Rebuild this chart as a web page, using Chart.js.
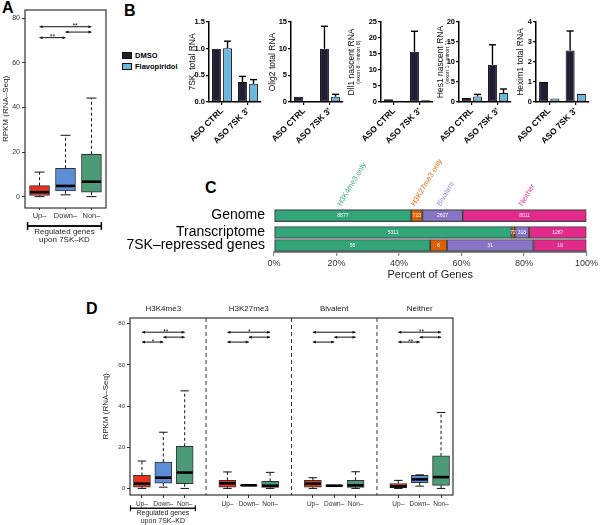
<!DOCTYPE html>
<html><head><meta charset="utf-8">
<script src="https://cdn.jsdelivr.net/npm/chart.js@4.4.1/dist/chart.umd.min.js"></script>
<style>
html,body{margin:0;padding:0;background:#fff;}
body{width:600px;height:525px;position:relative;overflow:hidden;font-family:"Liberation Sans",Arial,Helvetica,sans-serif;}
canvas{position:absolute;}
.panel{position:absolute;font-weight:bold;font-size:16px;line-height:1;color:#000;}
.leg{position:absolute;font-weight:bold;font-size:7.5px;line-height:1;color:#000;}
.sw{position:absolute;width:8px;height:5px;border:1px solid #111;}
</style></head><body>
<div class="panel" style="left:2px;top:0px">A</div>
<div class="panel" style="left:124px;top:3px">B</div>
<div class="panel" style="left:205px;top:180px">C</div>
<div class="panel" style="left:86px;top:301px">D</div>
<div class="sw" style="left:122px;top:52px;background:#231c35"></div>
<div class="leg" style="left:135px;top:52px">DMSO</div>
<div class="sw" style="left:122px;top:63px;background:#6cb7dd"></div>
<div class="leg" style="left:135px;top:63px">Flavopiridol</div>
<script>
// ---------------- DATA ----------------
// Panel A (box stats: [min, q1, median, q3, max])
const groupLabels = ['Up–', 'Down–', 'Non–'];
const aUp   = [0, 0.5, 2.0, 4.9, 11.0];
const aDown = [0.8, 2.6, 4.8, 12.7, 27.5];
const aNon  = [0, 2.0, 6.7, 19.0, 44.2];
const rpkmTicks = [0, 20, 40, 60, 80];

// Panel B
const bCategories = ['ASO CTRL', "ASO 7SK 3'"];
const bSeries = ['DMSO', 'Flavopiridol'];
const sk7Dmso = [1.0, 0.375],  sk7DmsoErr = [0, 0.105], sk7Flavo = [1.01, 0.34], sk7FlavoErr = [0.13, 0.08];
const olig2Dmso = [1.0, 10.0], olig2DmsoErr = [0, 4.2], olig2Flavo = [0.12, 1.0], olig2FlavoErr = [0, 0.44];
const dll1Dmso = [0.85, 15.7], dll1DmsoErr = [0, 6.4],  dll1Flavo = [0.4, 0.55], dll1FlavoErr = [0, 0];
const hes1Dmso = [1.0, 9.3],   hes1DmsoErr = [0, 5.0],  hes1Flavo = [1.4, 2.25], hes1FlavoErr = [0.5, 1.0];
const hexim1Dmso = [1.0, 2.58], hexim1DmsoErr = [0, 0.97], hexim1Flavo = [0.18, 0.4], hexim1FlavoErr = [0, 0];

// Panel C (gene counts)
const cRows = ['Genome', 'Transcriptome', '7SK–repressed genes'];
const cClasses = ['H3K4me3 only', 'H3K27me3 only', 'Bivalent', 'Neither'];
const cH3K4me3  = [8877, 5311, 56];
const cH3K27me3 = [723, 72, 6];
const cBivalent = [2607, 318, 31];
const cNeither  = [8011, 1287, 19];
const cTicks = [0, 20, 40, 60, 80, 100];

// Panel D (box stats per facet: Up, Down, Non)
const dFacets = ['H3K4me3', 'H3K27me3', 'Bivalent', 'Neither'];
const dH3K4me3  = [[0, 0.6, 2.3, 6.3, 13.3], [0.6, 2.6, 5.2, 12.8, 27.3], [0, 2.3, 7.7, 20.5, 47.4]];
const dH3K27me3 = [[0, 0.6, 2.5, 3.9, 8.0], [1.2, 1.2, 1.5, 1.8, 1.8], [0, 0.5, 1.3, 3.4, 7.8]];
const dBivalent = [[0, 0.6, 2.3, 3.9, 5.2], [1.0, 1.0, 1.3, 1.7, 1.7], [0, 0.5, 1.5, 3.9, 8.1]];
const dNeither  = [[0, 0.3, 1.0, 2.4, 3.9], [1.1, 2.8, 4.4, 6.3, 6.6], [0, 1.5, 5.5, 15.8, 36.9]];

// ---------------- STYLE ----------------
const FONT = '"Liberation Sans", Arial, Helvetica, sans-serif';
Chart.defaults.font.family = FONT;
Chart.defaults.animation = false;
Chart.defaults.responsive = false;
Chart.defaults.devicePixelRatio = 1;
Chart.defaults.plugins.legend.display = false;
Chart.defaults.plugins.tooltip.enabled = false;
const boxColors = ['#e3331f', '#5b8ed6', '#4c9a78'];
const barColors = ['#231c35', '#6cb7dd'];
const classColors = ['#33a57b', '#d95f02', '#8674c4', '#e32a8a'];
const classLabelColors = ['#3ab288', '#e5690f', '#9c8fd8', '#e8398f'];

function addCanvas(left, top, w, h) {
  const c = document.createElement('canvas');
  c.width = w; c.height = h;
  c.style.left = left + 'px'; c.style.top = top + 'px';
  c.style.width = w + 'px'; c.style.height = h + 'px';
  document.body.appendChild(c);
  return c;
}
function seg(ctx, x1, y1, x2, y2) { ctx.beginPath(); ctx.moveTo(x1, y1); ctx.lineTo(x2, y2); ctx.stroke(); }
function arrowLine(ctx, x1, x2, y) {
  seg(ctx, x1, y, x2, y);
  const a = 3, b = 1.5;
  ctx.beginPath(); ctx.moveTo(x1, y); ctx.lineTo(x1 + a, y - b); ctx.lineTo(x1 + a, y + b); ctx.closePath(); ctx.fill();
  ctx.beginPath(); ctx.moveTo(x2, y); ctx.lineTo(x2 - a, y - b); ctx.lineTo(x2 - a, y + b); ctx.closePath(); ctx.fill();
}

// ---------------- BOX PLOTS ----------------
function boxPlugin(c) {
  return {
    id: 'boxplot',
    afterDatasetsDraw(chart) {
      const ctx = chart.ctx, xs = chart.scales.x, ys = chart.scales.y, ca = chart.chartArea;
      const meta = chart.getDatasetMeta(0);
      const py = v => ys.getPixelForValue(v), px = v => xs.getPixelForValue(v);
      ctx.save();
      (c.separators || []).forEach(p => {
        ctx.strokeStyle = '#333'; ctx.lineWidth = 1; ctx.setLineDash([4, 3]);
        seg(ctx, px(p), ca.top, px(p), ca.bottom);
      });
      ctx.setLineDash([]);
      c.stats.forEach((s, i) => {
        const el = meta.data[i];
        const x = el.x, hw = el.width / 2;
        const [mn, q1, md, q3, mx] = s;
        ctx.strokeStyle = '#111'; ctx.lineWidth = 1;
        if (mx > q3) {
          ctx.setLineDash([3, 2.5]); seg(ctx, x, py(q3), x, py(mx));
          ctx.setLineDash([]); seg(ctx, x - hw / 2, py(mx), x + hw / 2, py(mx));
        }
        if (mn < q1) {
          ctx.setLineDash([3, 2.5]); seg(ctx, x, py(q1), x, py(mn));
          ctx.setLineDash([]); seg(ctx, x - hw / 2, py(mn), x + hw / 2, py(mn));
        }
        ctx.strokeStyle = '#000'; ctx.lineWidth = c.medW;
        seg(ctx, x - hw + 0.5, py(md), x + hw - 0.5, py(md));
      });
      ctx.strokeStyle = '#333'; ctx.lineWidth = 1.2;
      ctx.strokeRect(ca.left, ca.top, ca.width, ca.height);
      ctx.strokeStyle = '#111'; ctx.fillStyle = '#111'; ctx.lineWidth = 1;
      c.sigLines.forEach(([a, b, v]) => arrowLine(ctx, px(a), px(b), py(v)));
      ctx.font = c.sigFont + 'px ' + FONT; ctx.textAlign = 'center'; ctx.textBaseline = 'alphabetic';
      c.sigText.forEach(([a, v, t]) => ctx.fillText(t, px(a), py(v) + c.sigFont * 0.6));
      ctx.fillStyle = '#222'; ctx.font = '8px ' + FONT; ctx.textBaseline = 'middle';
      (c.facetTitles || []).forEach(([p, t]) => ctx.fillText(t, px(p), c.facetY));
      const br = c.bracket;
      const bx1 = px(br.from), bx2 = px(br.to), by = ca.bottom + br.dy;
      ctx.strokeStyle = '#111'; ctx.lineWidth = br.lw;
      seg(ctx, bx1, by, bx2, by);
      ctx.lineWidth = br.lw * 0.8;
      seg(ctx, bx1 + 0.5, by - br.endH, bx1 + 0.5, by + br.endH);
      seg(ctx, bx2 - 0.5, by - br.endH, bx2 - 0.5, by + br.endH);
      ctx.fillStyle = '#222'; ctx.font = br.font + 'px ' + FONT; ctx.textAlign = 'center'; ctx.textBaseline = 'middle';
      const bc = (bx1 + bx2) / 2;
      ctx.fillText('Regulated genes', bc, ca.bottom + br.t1);
      ctx.fillText('upon 7SK–KD', bc, ca.bottom + br.t2);
      ctx.restore();
    }
  };
}
function boxChart(canvas, c) {
  const data = c.positions.map((p, i) => ({ x: p, y: [c.stats[i][1], c.stats[i][3]] }));
  return new Chart(canvas, {
    type: 'bar',
    data: { datasets: [{ data, backgroundColor: c.colors, borderColor: '#333', borderWidth: 1,
      borderSkipped: false, barThickness: c.boxW }] },
    options: {
      layout: { padding: c.pad },
      scales: {
        x: { type: 'linear', min: c.xMin, max: c.xMax, offset: false,
          afterBuildTicks: s => { s.ticks = c.positions.map(v => ({ value: v })); },
          afterFit: s => { s.height = c.xH; },
          ticks: { autoSkip: false, maxRotation: 0, minRotation: 0, callback: (v, i) => c.labels[i],
            font: { size: c.xFont }, color: '#333', padding: c.xPad },
          grid: { offset: false, drawOnChartArea: false, tickLength: c.xTick, color: '#333' },
          border: { display: false } },
        y: { type: 'linear', min: c.yMin, max: c.yMax,
          afterBuildTicks: s => { s.ticks = rpkmTicks.map(v => ({ value: v })); },
          afterFit: s => { s.width = c.yW; },
          ticks: { font: { size: c.yFont }, color: '#333', padding: 2 },
          grid: { drawOnChartArea: false, tickLength: 3, color: '#333' },
          border: { display: false },
          title: { display: true, text: 'RPKM (RNA–Seq)', font: { size: c.titleFont }, color: '#222',
            padding: { top: 1, bottom: 0 } } }
      }
    },
    plugins: [boxPlugin(c)]
  });
}

// Panel A
boxChart(addCanvas(0, 0, 120, 260), {
  positions: [1, 2, 3], labels: groupLabels, stats: [aUp, aDown, aNon], colors: boxColors,
  xMin: 0.44, xMax: 3.56, yMin: -5.1, yMax: 83.7, boxW: 20, medW: 2.6,
  pad: { left: 0, right: 14, top: 10, bottom: 0 }, yW: 25, xH: 52,
  xFont: 7.5, xTick: 2, xPad: 1, yFont: 7, titleFont: 8,
  sigLines: [[1, 3, 76.2], [2, 3, 73.8], [1, 2, 71.3]],
  sigText: [[2.37, 77.3, '**'], [1.5, 72.5, '**']], sigFont: 7,
  bracket: { from: 0.52, to: 3.4, dy: 18, t1: 24, t2: 32, font: 8, lw: 2, endH: 4 }
});

// Panel D
const dPositions = [0, 1, 2, 4, 5, 6, 8, 9, 10, 12, 13, 14];
const dSig = [];
[0, 4, 8, 12].forEach(b => { dSig.push([b, b + 2, 75.9], [b + 1, b + 2, 73.5], [b, b + 1, 71.1]); });
boxChart(addCanvas(90, 300, 370, 225), {
  positions: dPositions,
  labels: dPositions.map((p, i) => groupLabels[i % 3]),
  stats: [...dH3K4me3, ...dH3K27me3, ...dBivalent, ...dNeither],
  colors: dPositions.map((p, i) => boxColors[i % 3]),
  xMin: -0.56, xMax: 14.56, yMin: -3.2, yMax: 82.8, boxW: 17, medW: 2.6,
  pad: { left: 10, right: 7, top: 18, bottom: 0 }, yW: 30, xH: 30,
  xFont: 6.5, xTick: 3, xPad: 2, yFont: 6, titleFont: 8,
  separators: [3, 7, 11],
  facetTitles: dFacets.map((t, k) => [1 + 4 * k, t]), facetY: 9,
  sigLines: dSig,
  sigText: [[1.11, 77.1, '**'], [0.52, 72.2, '*'], [5.02, 77.1, '*'], [13.08, 77.1, '**'], [12.58, 72.2, '**']],
  sigFont: 6.5,
  bracket: { from: -0.56, to: 2.52, dy: 13.3, t1: 18.5, t2: 25.7, font: 7, lw: 1.5, endH: 3 }
});

// ---------------- PANEL B ----------------
const errPlugin = {
  id: 'errbars',
  afterDatasetsDraw(chart) {
    const ctx = chart.ctx, ys = chart.scales.y;
    ctx.save(); ctx.strokeStyle = '#000'; ctx.lineWidth = 1.4;
    chart.data.datasets.forEach((ds, di) => {
      const meta = chart.getDatasetMeta(di);
      ds.err.forEach((e, i) => {
        if (!e) return;
        const el = meta.data[i];
        const y0 = ys.getPixelForValue(ds.data[i]), y1 = ys.getPixelForValue(ds.data[i] + e);
        seg(ctx, el.x, y0, el.x, y1);
        seg(ctx, el.x - el.width * 0.4, y1, el.x + el.width * 0.4, y1);
      });
    });
    ctx.restore();
  }
};
function titlePlugin(p, left) {
  return {
    id: 'ytitle',
    afterDraw(chart) {
      const ctx = chart.ctx, ca = chart.chartArea, cy = (ca.top + ca.bottom) / 2;
      ctx.save(); ctx.fillStyle = '#111'; ctx.textAlign = 'center'; ctx.textBaseline = 'middle';
      ctx.translate(p.titleX - left, cy); ctx.rotate(-Math.PI / 2);
      ctx.font = '8.5px ' + FONT; ctx.fillText(p.title, 0, 0);
      ctx.restore();
      if (p.sub) {
        ctx.save(); ctx.fillStyle = '#111'; ctx.textAlign = 'center'; ctx.textBaseline = 'middle';
        ctx.translate(p.subX - left, cy); ctx.rotate(-Math.PI / 2);
        ctx.font = '5.5px ' + FONT; ctx.fillText(p.sub, 0, 0);
        ctx.restore();
      }
    }
  };
}
function barPanel(p) {
  const left = p.areaL - 40, w = p.areaR + 8 - left;
  const cv = addCanvas(left, 0, w, 160);
  new Chart(cv, {
    type: 'bar',
    data: { labels: bCategories, datasets: [
      { label: bSeries[0], data: p.dmso, err: p.dmsoErr, backgroundColor: barColors[0], borderColor: '#000', borderWidth: 1,
        borderSkipped: false, categoryPercentage: 0.85, barPercentage: 0.8 },
      { label: bSeries[1], data: p.flavo, err: p.flavoErr, backgroundColor: barColors[1], borderColor: '#111', borderWidth: 1,
        borderSkipped: false, categoryPercentage: 0.85, barPercentage: 0.8 }
    ] },
    options: {
      layout: { padding: { left: 0, right: 8, top: 22, bottom: 0 } },
      scales: {
        x: { afterFit: s => { s.height = 58; },
          ticks: { minRotation: 45, maxRotation: 45, autoSkip: false, font: { size: 8.5, weight: 'bold' }, color: '#000', padding: 1 },
          grid: { offset: false, drawOnChartArea: false, tickLength: 3, color: '#000', lineWidth: 1.2 },
          border: { color: '#000', width: 1.5 } },
        y: { min: 0, max: p.yMax, afterFit: s => { s.width = 40; },
          ticks: { stepSize: p.yStep, font: { size: 7.5, weight: 'bold' }, color: '#000', padding: 1,
            callback: v => v.toFixed(p.dec) },
          grid: { drawOnChartArea: false, tickLength: 3, color: '#000', lineWidth: 1.2 },
          border: { color: '#000', width: 1.5 } }
      }
    },
    plugins: [errPlugin, titlePlugin(p, left)]
  });
}
barPanel({ areaL: 209, areaR: 261, titleX: 193, title: '7SK  total RNA', yMax: 1.5, yStep: 0.5, dec: 1,
  dmso: sk7Dmso, dmsoErr: sk7DmsoErr, flavo: sk7Flavo, flavoErr: sk7FlavoErr });
barPanel({ areaL: 291, areaR: 343, titleX: 273, title: 'Olig2 total RNA', yMax: 15, yStep: 5, dec: 0,
  dmso: olig2Dmso, dmsoErr: olig2DmsoErr, flavo: olig2Flavo, flavoErr: olig2FlavoErr });
barPanel({ areaL: 381, areaR: 433, titleX: 352, subX: 358, title: 'Dll1 nascent RNA', sub: '(exon 8 - intron 8)',
  yMax: 25, yStep: 5, dec: 0, dmso: dll1Dmso, dmsoErr: dll1DmsoErr, flavo: dll1Flavo, flavoErr: dll1FlavoErr });
barPanel({ areaL: 459, areaR: 511, titleX: 441, subX: 447, title: 'Hes1 nascent RNA', sub: '(exon 1 - intron 1)',
  yMax: 20, yStep: 5, dec: 0, dmso: hes1Dmso, dmsoErr: hes1DmsoErr, flavo: hes1Flavo, flavoErr: hes1FlavoErr });
barPanel({ areaL: 536, areaR: 589, titleX: 521, title: 'Hexim1 total RNA', yMax: 4, yStep: 1, dec: 0,
  dmso: hexim1Dmso, dmsoErr: hexim1DmsoErr, flavo: hexim1Flavo, flavoErr: hexim1FlavoErr });

// ---------------- PANEL C ----------------
const cCounts = [cH3K4me3, cH3K27me3, cBivalent, cNeither];
const cRowPos = [0, 1.3, 2.3];
const cTotals = cRows.map((r, i) => cCounts.reduce((s, arr) => s + arr[i], 0));
const cPlugin = {
  id: 'cdeco',
  afterDatasetsDraw(chart) {
    const ctx = chart.ctx;
    ctx.save();
    chart.data.datasets.forEach((ds, k) => {
      const meta = chart.getDatasetMeta(k);
      meta.data.forEach((el, r) => {
        const c = el.getCenterPoint();
        ctx.fillStyle = '#fff'; ctx.font = '5px ' + FONT; ctx.textAlign = 'center'; ctx.textBaseline = 'middle';
        ctx.fillText(String(ds.counts[r]), c.x, c.y);
      });
      const el = meta.data[0], c = el.getCenterPoint(), top = el.y - el.height / 2;
      ctx.save(); ctx.translate(c.x - 2, top - 3); ctx.rotate(-59 * Math.PI / 180);
      ctx.fillStyle = classLabelColors[k]; ctx.font = '7.5px ' + FONT; ctx.textAlign = 'left'; ctx.textBaseline = 'alphabetic';
      ctx.fillText(ds.label, 0, 0); ctx.restore();
    });
    ctx.restore();
  }
};
new Chart(addCanvas(100, 150, 500, 135), {
  type: 'bar',
  data: { datasets: cClasses.map((name, k) => ({
    label: name, counts: cCounts[k],
    data: cRowPos.map((p, r) => ({ y: p, x: cCounts[k][r] / cTotals[r] * 100 })),
    backgroundColor: classColors[k], borderColor: '#444', borderWidth: 1.2, borderSkipped: false, barThickness: 12
  })) },
  options: {
    indexAxis: 'y',
    layout: { padding: { left: 0, right: 10, top: 55, bottom: 0 } },
    scales: {
      x: { type: 'linear', min: 0, max: 100, stacked: true,
        afterBuildTicks: s => { s.ticks = cTicks.map(v => ({ value: v })); },
        afterFit: s => { s.height = 33; },
        ticks: { callback: v => v + '%', font: { size: 9 }, color: '#333', padding: 2, maxRotation: 0 },
        grid: { drawOnChartArea: false, tickLength: 4, color: '#888', lineWidth: 1.2 },
        border: { color: '#888', width: 2 },
        title: { display: true, text: 'Percent of Genes', font: { size: 11 }, color: '#222', padding: { top: 0, bottom: 3 } } },
      y: { type: 'linear', reverse: true, min: -0.81, max: 2.8, stacked: true, offset: false,
        afterBuildTicks: s => { s.ticks = cRowPos.map(v => ({ value: v })); },
        afterFit: s => { s.width = 174; },
        ticks: { autoSkip: false, callback: (v, i) => cRows[i], font: { size: 14 }, color: '#000', padding: 9 },
        grid: { display: false, drawTicks: false, offset: false },
        border: { display: false } }
    }
  },
  plugins: [cPlugin]
});
</script>
</body></html>
